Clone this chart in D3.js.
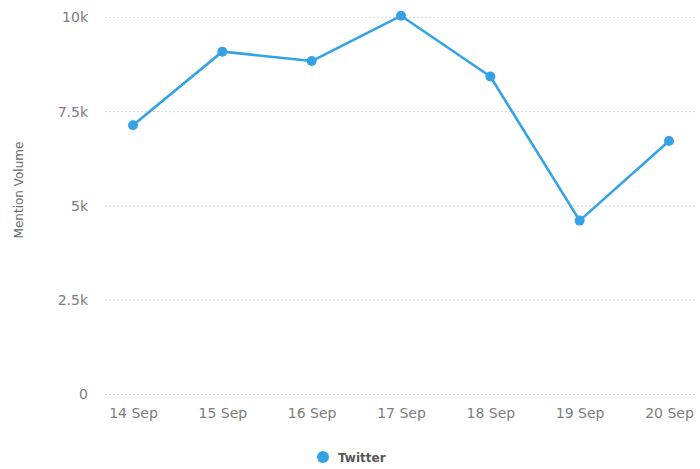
<!DOCTYPE html>
<html><head><meta charset="utf-8">
<script src="https://cdn.jsdelivr.net/npm/d3@7/dist/d3.min.js"></script>
<style>body{margin:0;background:#fff;}svg{display:block;font-family:"DejaVu Sans",sans-serif;}</style>
</head><body><svg id="c" width="700" height="469"></svg>
<script>
const categories = ["14 Sep","15 Sep","16 Sep","17 Sep","18 Sep","19 Sep","20 Sep"];
const twitter = [7140, 9090, 8840, 10040, 8430, 4610, 6720];
const yTicks = [0, 2500, 5000, 7500, 10000];
const yTickLabels = ["0","2.5k","5k","7.5k","10k"];
const seriesName = "Twitter";
const color = "#36a2e6";

const svg = d3.select("#c");
const x = d3.scalePoint().domain(categories).range([133, 669]);
const y = d3.scaleLinear().domain([0, 10000]).range([394.5, 17.3]);
const gridX0 = 105, gridX1 = 697;

// gridlines
svg.append("g").selectAll("line").data(yTicks).join("line")
  .attr("x1", gridX0).attr("x2", gridX1)
  .attr("y1", d => y(d)).attr("y2", d => y(d))
  .attr("stroke", "#d6d6d6").attr("stroke-width", 1).attr("stroke-dasharray", "2,2");

// y axis
const yAxis = d3.axisLeft(y).tickValues(yTicks).tickSize(0).tickPadding(0)
  .tickFormat((d, i) => yTickLabels[i]);
const yg = svg.append("g").attr("transform", "translate(88,0)").call(yAxis);
yg.select(".domain").remove();
yg.selectAll("text").attr("font-size", 14).attr("fill", "#7d7d7d").attr("font-family", "DejaVu Sans, sans-serif");

// x axis
const xAxis = d3.axisBottom(x).tickSize(0).tickPadding(0);
const xg = svg.append("g").attr("transform", "translate(0,408)").call(xAxis);
xg.select(".domain").remove();
xg.selectAll("text").attr("font-size", 14).attr("fill", "#7d7d7d").attr("font-family", "DejaVu Sans, sans-serif");

// y title
svg.append("text").attr("transform", "translate(23,190) rotate(-90)")
  .attr("text-anchor", "middle").attr("font-size", 12).attr("fill", "#6a6a6a")
  .text("Mention Volume");

// line
const line = d3.line().x((d, i) => x(categories[i])).y(d => y(d));
svg.append("path").datum(twitter).attr("d", line)
  .attr("fill", "none").attr("stroke", color).attr("stroke-width", 2.6)
  .attr("stroke-linejoin", "round");
svg.append("g").selectAll("circle").data(twitter).join("circle")
  .attr("cx", (d, i) => x(categories[i])).attr("cy", d => y(d))
  .attr("r", 5).attr("fill", color);

// legend
svg.append("circle").attr("cx", 323).attr("cy", 457).attr("r", 6).attr("fill", color);
svg.append("text").attr("x", 338).attr("y", 461.5).attr("font-size", 12)
  .attr("font-weight", "bold").attr("fill", "#555").text(seriesName);
</script></body></html>
